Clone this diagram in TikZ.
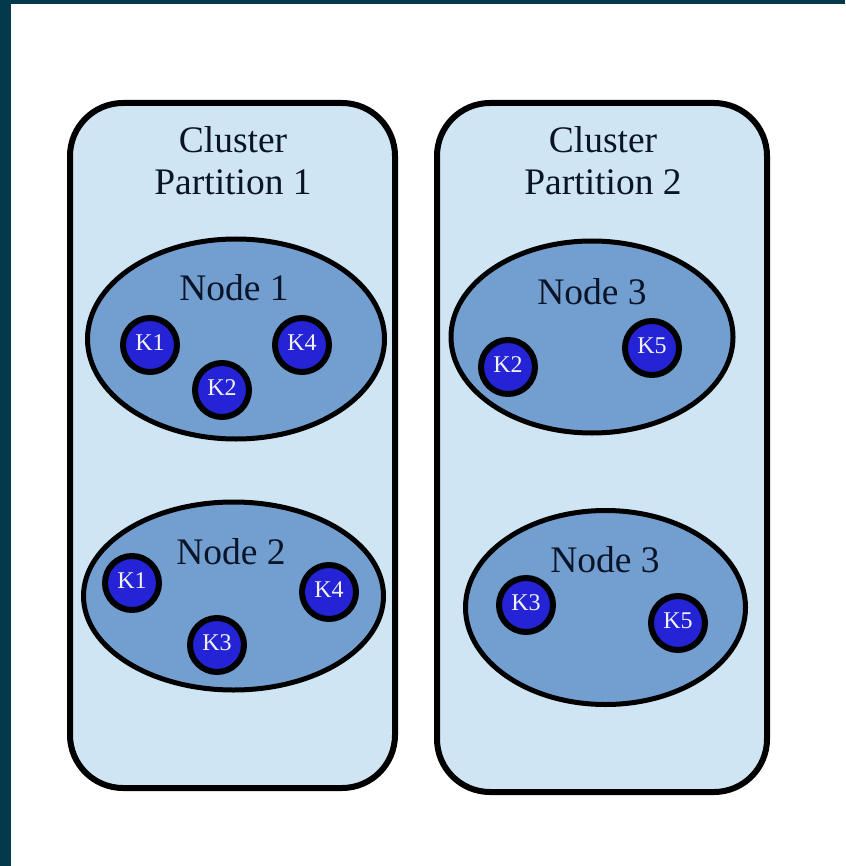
\documentclass[tikz,border=0pt]{standalone}
\usepackage{fontspec}
\setmainfont{Liberation Serif}
\usetikzlibrary{shapes.geometric}
\definecolor{frameteal}{HTML}{023A4C}
\definecolor{partfill}{HTML}{CFE5F3}
\definecolor{nodefill}{HTML}{729FCF}
\definecolor{keyfill}{HTML}{2424D6}
\definecolor{keytext}{HTML}{F2F2F2}
\definecolor{labeltext}{HTML}{0A1428}
\begin{document}
\begin{tikzpicture}[x=1pt,y=-1pt,
  partbox/.style={draw=black, line width=6pt, fill=partfill, rounded corners=53pt,
    inner sep=0pt, minimum width=#1},
  parttitle/.style={align=center, text=labeltext, font=\fontsize{37.5}{42}\selectfont, inner sep=0pt},
  hostnode/.style={ellipse, draw=black, line width=5pt, fill=nodefill, inner sep=0pt},
  hostlabel/.style={text=labeltext, font=\fontsize{37.5}{42}\selectfont, inner sep=0pt},
  keynode/.style={circle, draw=black, line width=6pt, fill=keyfill, minimum size=54pt,
    inner sep=0pt, text=keytext, font=\fontsize{24}{26}\selectfont}
]
\useasboundingbox (0,0) rectangle (845,866);
\fill[white] (0,0) rectangle (845,866);
% dark frame strips along the top and left edges
\fill[frameteal] (0,0) rectangle (845,4);
\fill[frameteal] (0,0) rectangle (11,866);

% cluster partitions
\node[partbox=325pt, minimum height=685pt] (p1) at (232.5,445.5) {};
\node[partbox=330pt, minimum height=689pt] (p2) at (602,447.5) {};
\node[parttitle] (t1) at (233,161) {Cluster\\Partition 1};
\node[parttitle] (t2) at (603,161) {Cluster\\Partition 2};

% partition 1, node 1
\node[hostnode, minimum width=297pt, minimum height=200pt] (n1) at (236,339) {};
\node[hostlabel] (n1l) at (234,288) {Node 1};
\node[keynode] (n1k1) at (150,345) {\raisebox{4pt}{K1}};
\node[keynode] (n1k2) at (222,390) {\raisebox{4pt}{K2}};
\node[keynode] (n1k4) at (302,345) {\raisebox{4pt}{K4}};

% partition 1, node 2
\node[hostnode, minimum width=300pt, minimum height=188pt] (n2) at (233.5,596) {};
\node[hostlabel] (n2l) at (231,552) {Node 2};
\node[keynode] (n2k1) at (132,583) {\raisebox{4pt}{K1}};
\node[keynode] (n2k3) at (217,645) {\raisebox{4pt}{K3}};
\node[keynode] (n2k4) at (329,592) {\raisebox{4pt}{K4}};

% partition 2, upper node 3
\node[hostnode, minimum width=282pt, minimum height=192pt] (n3a) at (592,337) {};
\node[hostlabel] (n3al) at (592,292) {Node 3};
\node[keynode] (n3ak2) at (508,367) {\raisebox{4pt}{K2}};
\node[keynode] (n3ak5) at (652,348) {\raisebox{4pt}{K5}};

% partition 2, lower node 3
\node[hostnode, minimum width=280pt, minimum height=194pt] (n3b) at (605.5,607.5) {};
\node[hostlabel] (n3bl) at (605,560) {Node 3};
\node[keynode] (n3bk3) at (526,605) {\raisebox{4pt}{K3}};
\node[keynode] (n3bk5) at (678,623) {\raisebox{4pt}{K5}};
\end{tikzpicture}
\end{document}
